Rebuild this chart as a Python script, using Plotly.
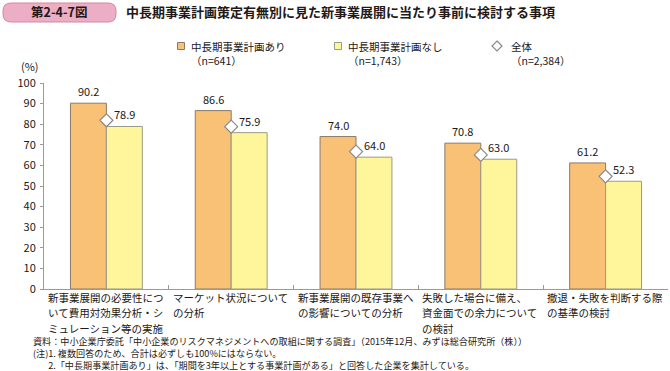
import plotly.graph_objects as go

# ---- data ----
categories = ["c1", "c2", "c3", "c4", "c5"]
category_lines = [
    ["新事業展開の必要性につ", "いて費用対効果分析・シ", "ミュレーション等の実施"],
    ["マーケット状況について", "の分析"],
    ["新事業展開の既存事業へ", "の影響についての分析"],
    ["失敗した場合に備え、", "資金面での余力について", "の検討"],
    ["撤退・失敗を判断する際", "の基準の検討"],
]
with_plan = [90.2, 86.6, 74.0, 70.8, 61.2]
without_plan = [78.9, 75.9, 64.0, 63.0, 52.3]
overall = [81.9, 78.8, 66.7, 65.1, 54.7]

legend_names = ["中長期事業計画あり", "中長期事業計画なし", "全体"]
legend_counts = ["（n=641）", "（n=1,743）", "（n=2,384）"]

yticks = [0, 10, 20, 30, 40, 50, 60, 70, 80, 90, 100]

fig_title = "中長期事業計画策定有無別に見た新事業展開に当たり事前に検討する事項"
fig_no = "第2-4-7図"
footnotes = [
    "資料：中小企業庁委託「中小企業のリスクマネジメントへの取組に関する調査」（2015年12月、みずほ総合研究所（株））",
    "(注)1. 複数回答のため、合計は必ずしも100%にはならない。",
    "　&nbsp;&nbsp;&nbsp;2.「中長期事業計画あり」は、「期間を3年以上とする事業計画がある」と回答した企業を集計している。",
]

# ---- style ----
W, H = 670, 371
L, R, T, B = 44, 2, 83, 82
PW, PH = W - L - R, H - T - B
FONT = "Noto Sans CJK JP, Noto Sans, sans-serif"
TXT = "#231815"
AX = "#9a9a9a"
ORANGE, ORANGE_LINE = "#F9C176", "#8a7a6a"
YELLOW, YELLOW_LINE = "#FFF69B", "#9a9a88"
DIAMOND_LINE = "#8a8a8a"


def fx(px):
    return (px - L) / PW


def fy(py):
    return (H - B - py) / PH


fig = go.Figure()

fig.add_trace(go.Bar(
    x=categories, y=with_plan, name=legend_names[0],
    marker=dict(color=ORANGE, line=dict(color=ORANGE_LINE, width=1)),
))
fig.add_trace(go.Bar(
    x=categories, y=without_plan, name=legend_names[1],
    marker=dict(color=YELLOW, line=dict(color=YELLOW_LINE, width=1)),
))
fig.add_trace(go.Scatter(
    x=categories, y=overall, mode="markers", name=legend_names[2], cliponaxis=False,
    marker=dict(symbol="diamond", size=10, color="white", line=dict(color=DIAMOND_LINE, width=1.2)),
))

annotations = []
# value labels above the bars
for series, shift in ((with_plan, -18), (without_plan, 18)):
    for c, v in zip(categories, series):
        annotations.append(dict(
            x=c, y=v, xref="x", yref="y", xanchor="center", yanchor="middle",
            xshift=shift, yshift=12, text=f"{v:.1f}", showarrow=False,
            font=dict(size=11, color=TXT, family=FONT),
        ))
# category labels, left aligned, one line per annotation
for i, lines in enumerate(category_lines):
    for j, line in enumerate(lines):
        annotations.append(dict(
            x=i - 0.5, y=0, xref="x", yref="y", xanchor="left", yanchor="middle",
            xshift=2, yshift=-8.5 - 15.3 * j, text=line, showarrow=False,
            font=dict(size=10.5, color=TXT, family=FONT),
        ))
# footnotes (one block)
annotations.append(dict(
    x=fx(31), y=fy(352.5), xref="paper", yref="paper",
    xanchor="left", yanchor="middle", align="left", text="<br>".join(footnotes),
    showarrow=False, font=dict(size=9.1, color=TXT, family=FONT),
))
# (%)
annotations.append(dict(x=fx(30), y=fy(66), xref="paper", yref="paper", xanchor="center",
                        yanchor="middle", text="(%)", showarrow=False,
                        font=dict(size=11, color=TXT, family=FONT)))
# title
annotations.append(dict(x=fx(59), y=fy(12), xref="paper", yref="paper", xanchor="center",
                        yanchor="middle", text=f"<b>{fig_no}</b>", showarrow=False,
                        font=dict(size=12.5, color=TXT, family=FONT)))
annotations.append(dict(x=fx(124), y=fy(12), xref="paper", yref="paper", xanchor="left",
                        yanchor="middle", text=f"<b>{fig_title}</b>", showarrow=False,
                        font=dict(size=13, color=TXT, family=FONT)))

# manual legend
legend_x = [181, 338, 497]
legend_text_x = [189, 346, 509]
LEG_Y = 46
shapes = []
for k in range(3):
    annotations.append(dict(x=fx(legend_text_x[k]), y=fy(LEG_Y), xref="paper", yref="paper",
                            xanchor="left", yanchor="middle", text=legend_names[k],
                            showarrow=False, font=dict(size=10.5, color=TXT, family=FONT)))
    annotations.append(dict(x=fx(legend_text_x[k]), y=fy(LEG_Y + 14), xref="paper", yref="paper",
                            xanchor="left", yanchor="middle", text=legend_counts[k],
                            showarrow=False, font=dict(size=10.5, color=TXT, family=FONT)))
for k, (fc, lc) in enumerate([(ORANGE, ORANGE_LINE), (YELLOW, YELLOW_LINE)]):
    cx = legend_x[k]
    shapes.append(dict(type="rect", xref="paper", yref="paper",
                       x0=fx(cx - 3.5), x1=fx(cx + 3.5), y0=fy(LEG_Y + 3.5), y1=fy(LEG_Y - 3.5),
                       fillcolor=fc, line=dict(color=lc, width=1)))
cx = legend_x[2]
shapes.append(dict(type="path", xref="paper", yref="paper",
                   path=(f"M{fx(cx)},{fy(LEG_Y-5)} L{fx(cx+5)},{fy(LEG_Y)} "
                         f"L{fx(cx)},{fy(LEG_Y+5)} L{fx(cx-5)},{fy(LEG_Y)} Z"),
                   fillcolor="white", line=dict(color=DIAMOND_LINE, width=1.2)))


def rounded_rect(x0, y0, x1, y1, r):
    X0, X1 = fx(x0), fx(x1)
    Y0, Y1 = fy(y0), fy(y1)
    rx, ry = r / PW, r / PH
    return (f"M{X0+rx},{Y0} L{X1-rx},{Y0} Q{X1},{Y0} {X1},{Y0-ry} "
            f"L{X1},{Y1+ry} Q{X1},{Y1} {X1-rx},{Y1} L{X0+rx},{Y1} "
            f"Q{X0},{Y1} {X0},{Y1+ry} L{X0},{Y0-ry} Q{X0},{Y0} {X0+rx},{Y0} Z")


shapes.insert(0, dict(type="path", xref="paper", yref="paper",
                      path=rounded_rect(3, 3, 116, 22, 8),
                      fillcolor="#EBAEC5", line=dict(color="#D4879F", width=1)))

fig.update_layout(
    width=W, height=H,
    margin=dict(l=L, r=R, t=T, b=B, pad=0, autoexpand=False),
    paper_bgcolor="white", plot_bgcolor="white",
    font=dict(family=FONT, color=TXT, size=11),
    barmode="group", bargap=0.424, bargroupgap=0,
    showlegend=False,
    xaxis=dict(
        type="category", range=[-0.5, 4.5], showticklabels=False,
        showline=True, linecolor=AX, linewidth=1,
        ticks="inside", tickson="boundaries", ticklen=4, tickcolor=AX,
        showgrid=False, zeroline=False, fixedrange=True,
    ),
    yaxis=dict(
        range=[0, 100], tickvals=yticks, showline=True, linecolor=AX, linewidth=1,
        ticks="outside", ticklen=3, tickcolor=AX, showgrid=False, zeroline=False,
        tickfont=dict(size=11, color=TXT, family=FONT), ticklabelstandoff=2,
        fixedrange=True,
    ),
    annotations=annotations,
    shapes=shapes,
)

fig.write_html(
    "out.html",
    config={"displayModeBar": False, "staticPlot": True},
    post_script="document.body.style.margin='0';document.body.style.overflow='hidden';",
)
